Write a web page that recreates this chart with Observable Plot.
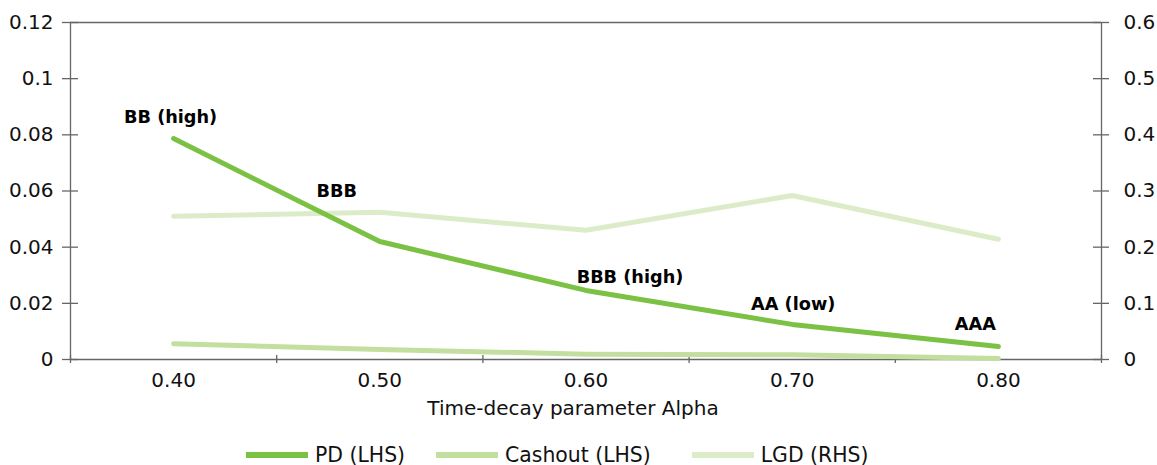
<!DOCTYPE html>
<html>
<head>
<meta charset="utf-8">
<script src="https://cdn.jsdelivr.net/npm/d3@7"></script>
<script src="https://cdn.jsdelivr.net/npm/@observablehq/plot@0.6"></script>
<style>
  html, body { margin: 0; padding: 0; background: #fff; }
  body { width: 1157px; font-family: "DejaVu Sans", Verdana, sans-serif; }
  #chart svg { display: block; }
  #legend { display: flex; align-items: center; height: 30px; padding-top: 5px; margin-left: 246px; font-size: 20.4px; color: #111; white-space: nowrap; }
  #legend .item { display: flex; align-items: center; }
  #legend .sw { width: 62px; height: 6px; margin-right: 7px; }
</style>
</head>
<body>
<div id="chart"></div>
<div id="legend"></div>
<script>
// Time-decay parameter values on the x axis
const alphas = [0.40, 0.50, 0.60, 0.70, 0.80];
// Left-hand side series
const pd      = [0.0787, 0.0420, 0.0246, 0.0125, 0.0046];
const cashout = [0.0056, 0.0036, 0.0019, 0.0017, 0.0004];
// Right-hand side series (0 – 0.6)
const lgd     = [0.255, 0.262, 0.230, 0.292, 0.214];
// Rating labels attached to the PD points
const ratings = ["BB (high)", "BBB", "BBB (high)", "AA (low)", "AAA"];
// Tick values
const leftTicks  = [0, 0.02, 0.04, 0.06, 0.08, 0.1, 0.12];
const rightTicks = [0, 0.1, 0.2, 0.3, 0.4, 0.5, 0.6];
const xBounds    = [0.35, 0.45, 0.55, 0.65, 0.75, 0.85];

const colors = { pd: "#7bc143", cashout: "#c2df9f", lgd: "#dcecc9" };
const axisColor = "#666";

// label offsets (px) relative to each PD point
const labelOffsets = [[-3, -21], [-43, -50], [44, -13], [1, -20], [-23, -22]];

const rows = alphas.map((a, i) => ({ alpha: a, pd: pd[i], cashout: cashout[i], lgd: lgd[i], rating: ratings[i] }));

// The RHS axis shares the y scale: 0.6 on the right sits level with 0.12 on the left
const rhsFactor = 0.12 / 0.6;
const rightScaled = rightTicks.map(d => d * rhsFactor);

const fontFamily = '"DejaVu Sans", Verdana, sans-serif';
const axisLine = { stroke: axisColor, strokeWidth: 1.3 };

const chart = Plot.plot({
  width: 1157,
  height: 435,
  marginLeft: 70,
  marginRight: 56,
  marginTop: 22,
  marginBottom: 76,
  style: { fontFamily, fontSize: "20px", color: "#111", background: "#fff" },
  x: { type: "linear", domain: [0.35, 0.85] },
  y: { type: "linear", domain: [0, 0.12] },
  marks: [
    // frame: top, left, right, bottom
    Plot.ruleY([0.12], axisLine),
    Plot.ruleX([0.35], axisLine),
    Plot.ruleX([0.85], axisLine),
    Plot.ruleY([0], axisLine),
    // left axis ticks crossing the axis line
    Plot.ruleY(leftTicks, { y: d => d, x1: 0.35, x2: 0.35, insetLeft: -8, insetRight: -8, ...axisLine }),
    Plot.axisY(leftTicks, { anchor: "left", tickSize: 0, tickPadding: 17, tickFormat: d => String(+d.toFixed(2)), fontSize: 20, label: null }),
    // right axis (RHS values)
    Plot.ruleY(rightScaled, { y: d => d, x1: 0.85, x2: 0.85, insetLeft: -8, insetRight: -8, ...axisLine }),
    Plot.axisY(rightScaled, { anchor: "right", tickSize: 0, tickPadding: 22, tickFormat: d => String(+(d / rhsFactor).toFixed(1)), fontSize: 20, label: null }),
    // x axis: boundary ticks and centred labels
    Plot.ruleX(xBounds, { x: d => d, y1: 0, y2: 0, insetTop: -4, insetBottom: -4, ...axisLine }),
    Plot.axisX(alphas, { anchor: "bottom", tickSize: 0, tickPadding: 13, tickFormat: d3.format(".2f"), fontSize: 20, label: null }),
    Plot.text(["Time-decay parameter Alpha"], { frameAnchor: "bottom", lineAnchor: "middle", dx: -13, dy: 49, fontSize: 20, fill: "#111" }),
    // series
    Plot.line(rows, { x: "alpha", y: d => d.lgd * rhsFactor, stroke: colors.lgd, strokeWidth: 5 }),
    Plot.line(rows, { x: "alpha", y: "cashout", stroke: colors.cashout, strokeWidth: 5 }),
    Plot.line(rows, { x: "alpha", y: "pd", stroke: colors.pd, strokeWidth: 5 }),
    // rating labels
    ...rows.map((r, i) => Plot.text([r], {
      x: "alpha", y: "pd", text: "rating",
      dx: labelOffsets[i][0], dy: labelOffsets[i][1],
      fontWeight: "bold", fontSize: 17.7, fill: "#000"
    }))
  ]
});
document.getElementById("chart").appendChild(chart);

// legend below the chart
const legendItems = [
  { name: "PD (LHS)", color: colors.pd, gap: 31 },
  { name: "Cashout (LHS)", color: colors.cashout, gap: 41 },
  { name: "LGD (RHS)", color: colors.lgd, gap: 0 }
];
const legend = document.getElementById("legend");
for (const it of legendItems) {
  const item = document.createElement("div");
  item.className = "item";
  item.style.marginRight = it.gap + "px";
  const sw = document.createElement("span");
  sw.className = "sw";
  sw.style.background = it.color;
  const tx = document.createElement("span");
  tx.textContent = it.name;
  item.appendChild(sw);
  item.appendChild(tx);
  legend.appendChild(item);
}
</script>
</body>
</html>
